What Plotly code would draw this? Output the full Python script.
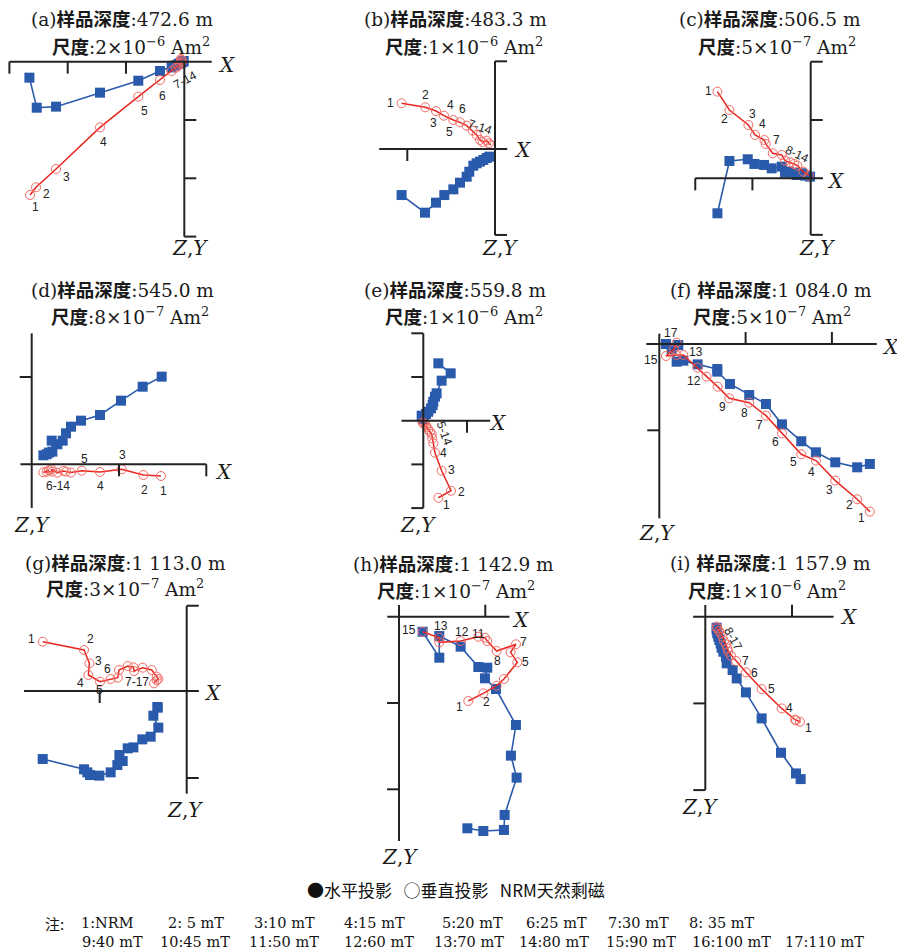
import plotly.graph_objects as go

W, H = 897, 950

# ---------------- data (units of one scale tick) ----------------
# (a) 472.6 m
a_blue_x = [-2.657, -2.531, -2.2, -1.446, -0.789, -0.417, -0.217, -0.149, -0.103, -0.069, -0.046, -0.029, -0.017, -0.011]
a_blue_y = [0.274, 0.789, 0.771, 0.531, 0.326, 0.16, 0.097, 0.063, 0.04, 0.023, 0.011, 0.0, -0.006, -0.011]
a_red_x = [-2.646, -2.543, -2.2, -1.446, -0.789, -0.417, -0.217, -0.143, -0.103, -0.074, -0.057, -0.04, -0.046, -0.057]
a_red_z = [2.286, 2.154, 1.84, 1.126, 0.6, 0.314, 0.16, 0.103, 0.069, 0.04, 0.017, -0.006, -0.029, -0.046]
# (b) 483.3 m
b_blue_x = [-1.065, -0.798, -0.673, -0.578, -0.475, -0.399, -0.323, -0.293, -0.247, -0.209, -0.171, -0.133, -0.095, -0.065]
b_blue_y = [0.525, 0.726, 0.612, 0.525, 0.46, 0.384, 0.316, 0.259, 0.19, 0.163, 0.144, 0.125, 0.103, 0.087]
b_red_x = [-1.065, -0.795, -0.673, -0.582, -0.475, -0.399, -0.323, -0.255, -0.209, -0.171, -0.141, -0.095, -0.068, -0.049]
b_red_z = [-0.521, -0.475, -0.433, -0.38, -0.331, -0.304, -0.266, -0.209, -0.16, -0.103, -0.08, -0.095, -0.065, -0.042]
# (c) 506.5 m
c_blue_x = [-1.6, -1.394, -1.08, -0.966, -0.8, -0.669, -0.497, -0.44, -0.383, -0.309, -0.24, -0.154, -0.097, -0.011]
c_blue_y = [0.6, -0.297, -0.326, -0.246, -0.229, -0.171, -0.2, -0.097, -0.114, -0.097, -0.057, -0.086, -0.046, -0.029]
c_red_x = [-1.6, -1.394, -1.069, -0.954, -0.794, -0.771, -0.651, -0.497, -0.44, -0.354, -0.286, -0.229, -0.126, -0.029]
c_red_z = [-1.486, -1.171, -0.914, -0.743, -0.657, -0.589, -0.429, -0.4, -0.303, -0.274, -0.246, -0.217, -0.114, -0.046]
# (d) 545.0 m
d_blue_x = [1.489, 1.271, 1.023, 0.782, 0.565, 0.45, 0.393, 0.355, 0.294, 0.229, 0.237, 0.172, 0.134, 0.198]
d_blue_y = [-1.004, -0.889, -0.729, -0.565, -0.5, -0.431, -0.355, -0.271, -0.229, -0.271, -0.145, -0.115, -0.103, -0.134]
d_red_x = [1.481, 1.279, 1.031, 0.782, 0.573, 0.45, 0.393, 0.363, 0.294, 0.229, 0.237, 0.172, 0.134, 0.198]
d_red_z = [0.134, 0.122, 0.057, 0.088, 0.073, 0.095, 0.084, 0.076, 0.095, 0.057, 0.084, 0.084, 0.092, 0.069]
# (e) 559.8 m
e_blue_x = [0.344, 0.626, 0.42, 0.305, 0.267, 0.229, 0.214, 0.176, 0.115, 0.061, 0.015, -0.015, -0.038, 0.0]
e_blue_y = [-1.313, -1.084, -0.916, -0.626, -0.55, -0.435, -0.359, -0.282, -0.206, -0.153, -0.107, -0.076, -0.115, -0.038]
e_red_x = [0.344, 0.634, 0.42, 0.267, 0.229, 0.206, 0.191, 0.153, 0.115, 0.076, 0.061, 0.023, 0.0, -0.015]
e_red_z = [1.763, 1.603, 1.145, 0.733, 0.519, 0.405, 0.305, 0.252, 0.198, 0.137, 0.107, 0.076, 0.061, 0.038]
# (f) 1 084.0 m
f_blue_x = [2.44, 2.293, 2.039, 1.815, 1.645, 1.421, 1.236, 1.042, 0.819, 0.672, 0.672, 0.444, 0.278, 0.201, 0.077, 0.143, 0.22]
f_blue_y = [1.39, 1.429, 1.371, 1.255, 1.127, 0.931, 0.695, 0.591, 0.463, 0.32, 0.29, 0.236, 0.193, 0.205, 0.0, 0.058, 0.012]
f_red_x = [2.44, 2.293, 2.039, 1.815, 1.645, 1.421, 1.236, 1.042, 0.811, 0.676, 0.548, 0.444, 0.278, 0.201, 0.077, 0.17, 0.201]
f_red_z = [1.942, 1.799, 1.583, 1.351, 1.278, 1.035, 0.83, 0.68, 0.629, 0.494, 0.378, 0.274, 0.127, 0.127, 0.139, 0.058, -0.015]
# (g) 1 113.0 m
g_blue_x = [-1.655, -1.18, -1.142, -1.111, -1.004, -0.874, -0.797, -0.736, -0.774, -0.678, -0.613, -0.51, -0.414, -0.326, -0.383, -0.337, -0.333]
g_blue_y = [0.782, 0.9, 0.935, 0.966, 0.973, 0.935, 0.851, 0.805, 0.736, 0.659, 0.648, 0.556, 0.525, 0.421, 0.284, 0.184, 0.192]
g_red_x = [-1.655, -1.18, -1.119, -1.13, -0.996, -0.874, -0.793, -0.778, -0.678, -0.613, -0.605, -0.506, -0.402, -0.345, -0.326, -0.375, -0.345]
g_red_z = [-0.567, -0.471, -0.318, -0.184, -0.107, -0.138, -0.153, -0.241, -0.287, -0.272, -0.23, -0.268, -0.241, -0.165, -0.138, -0.088, -0.123]
# (h) 1 142.9 m
h_blue_x = [0.792, 0.977, 1.216, 1.224, 1.363, 1.297, 1.355, 1.124, 0.996, 1.023, 0.919, 0.714, 0.467, 0.467, 0.274]
h_blue_y = [2.452, 2.483, 2.471, 2.297, 1.865, 1.61, 1.255, 0.838, 0.714, 0.591, 0.583, 0.347, 0.224, 0.475, 0.174]
h_red_x = [0.803, 0.977, 1.131, 1.216, 1.371, 1.293, 1.355, 1.131, 1.023, 0.996, 0.919, 0.714, 0.467, 0.467, 0.274]
h_red_z = [0.977, 0.888, 0.799, 0.722, 0.529, 0.413, 0.32, 0.398, 0.282, 0.243, 0.232, 0.282, 0.297, 0.243, 0.174]
# (i) 1 157.9 m
i_blue_x = [1.1, 1.046, 0.873, 0.65, 0.469, 0.362, 0.315, 0.246, 0.238, 0.208, 0.188, 0.177, 0.162, 0.15, 0.138, 0.131, 0.131]
i_blue_y = [1.873, 1.808, 1.569, 1.173, 0.873, 0.712, 0.615, 0.538, 0.462, 0.404, 0.358, 0.308, 0.269, 0.231, 0.192, 0.154, 0.127]
i_red_x = [1.092, 1.046, 1.035, 0.881, 0.65, 0.469, 0.354, 0.296, 0.265, 0.254, 0.238, 0.215, 0.2, 0.177, 0.158, 0.138, 0.131]
i_red_z = [1.212, 1.196, 1.188, 1.058, 0.835, 0.642, 0.512, 0.45, 0.404, 0.365, 0.319, 0.281, 0.231, 0.192, 0.165, 0.135, 0.115]

depths = ["472.6", "483.3", "506.5", "545.0", "559.8", "1 084.0", "1 113.0", "1 142.9", "1 157.9"]
scale_mant = ["2", "1", "5", "8", "1", "5", "3", "1", "1"]
scale_exp = ["−6", "−6", "−7", "−7", "−6", "−7", "−7", "−7", "−6"]
letters = ["(a)", "(b)", "(c)", "(d)", "(e)", "(f) ", "(g)", "(h)", "(i) "]

legend_text = "●水平投影   ○垂直投影   NRM天然剩磁"
note_row1 = ["1:NRM", "2: 5 mT", "3:10 mT", "4:15 mT", "5:20 mT", "6:25 mT", "7:30 mT", "8: 35 mT"]
note_row2 = ["9:40 mT", "10:45 mT", "11:50 mT", "12:60 mT", "13:70 mT", "14:80 mT", "15:90 mT", "16:100 mT", "17:110 mT"]

# ---------------- layout of the panels (pixels) ----------------
series = {
    "a": (a_blue_x, a_blue_y, a_red_x, a_red_z),
    "b": (b_blue_x, b_blue_y, b_red_x, b_red_z),
    "c": (c_blue_x, c_blue_y, c_red_x, c_red_z),
    "d": (d_blue_x, d_blue_y, d_red_x, d_red_z),
    "e": (e_blue_x, e_blue_y, e_red_x, e_red_z),
    "f": (f_blue_x, f_blue_y, f_red_x, f_red_z),
    "g": (g_blue_x, g_blue_y, g_red_x, g_red_z),
    "h": (h_blue_x, h_blue_y, h_red_x, h_red_z),
    "i": (i_blue_x, i_blue_y, i_red_x, i_red_z),
}

panels = [
    dict(k="a", ox=184.3, oy=61.7, s=58.3, xe=(-3, 0.47), ye=(0, 3), xt=[-1, -2, -3], xd=1, yt=[1, 2, 3], yd=1,
         t1=(122, 20), t2=(131, 46), xl=(227, 65), zl=(190, 248),
         lb=[("1", -2.56, 2.486, 0), ("2", -2.36, 2.274, 0), ("3", -2.029, 1.971, 0), ("4", -1.389, 1.371, 0),
             ("5", -0.691, 0.846, 0), ("6", -0.371, 0.583, 0), ("7-14", 0.011, 0.314, -28)]),
    dict(k="b", ox=495, oy=149, s=87.7, xe=(-1.32, 0.14), ye=(-1, 0.98), xt=[-1], xd=1, yt=[-1, 0.98], yd=1,
         t1=(455, 20), t2=(464, 46), xl=(522, 150), zl=(500, 248),
         lb=[("1", -1.19, -0.529, 0), ("2", -0.798, -0.616, 0), ("3", -0.703, -0.293, 0), ("4", -0.513, -0.502, 0),
             ("5", -0.521, -0.19, 0), ("6", -0.369, -0.456, 0), ("7-14", -0.171, -0.255, 18)]),
    dict(k="c", ox=810.7, oy=178.3, s=58.3, xe=(-1.98, 0.21), ye=(-2, 0.97), xt=[-1, -1.98], xd=1, yt=[-2, -1, 0.97], yd=1,
         t1=(770, 20), t2=(777, 46), xl=(835, 181), zl=(817, 248),
         lb=[("1", -1.754, -1.503, 0), ("2", -1.486, -1.011, 0), ("3", -0.994, -1.097, 0), ("4", -0.823, -0.926, 0),
             ("7", -0.594, -0.657, 0), ("8-14", -0.24, -0.417, 25)]),
    dict(k="d", ox=31.7, oy=464.3, s=87.3, xe=(-0.13, 2.0), ye=(-1.5, 0.5), xt=[1, 2], xd=1, yt=[-1], yd=-1,
         t1=(122, 290), t2=(130, 316), xl=(223, 472), zl=(32, 525),
         lb=[("5", 0.603, -0.057, 0), ("3", 1.038, -0.107, 0), ("6-14", 0.305, 0.248, 0), ("4", 0.79, 0.248, 0),
             ("2", 1.29, 0.294, 0), ("1", 1.508, 0.302, 0)]),
    dict(k="e", ox=423.3, oy=420.7, s=43.7, xe=(-0.5, 1.53), ye=(-2, 2), xt=[1], xd=1, yt=[-2, -1, 1, 2], yd=-1,
         t1=(455, 290), t2=(464, 316), xl=(498, 423), zl=(418, 525),
         lb=[("5-14", 0.473, 0.29, 70), ("4", 0.458, 0.748, 0), ("3", 0.649, 1.13, 0), ("2", 0.878, 1.626, 0),
             ("1", 0.534, 1.931, 0)]),
    dict(k="f", ox=659.3, oy=344, s=86.3, xe=(-0.15, 2.52), ye=(-0.12, 2.02), xt=[1, 2], xd=-1, yt=[1], yd=-1,
         t1=(771, 290), t2=(772, 316), xl=(890, 347), zl=(657, 533),
         lb=[("17", 0.131, -0.124, 0), ("15", -0.1, 0.185, 0), ("13", 0.421, 0.089, 0), ("12", 0.402, 0.425, 0),
             ("9", 0.734, 0.726, 0), ("8", 0.985, 0.795, 0), ("7", 1.158, 0.938, 0), ("6", 1.344, 1.131, 0),
             ("5", 1.552, 1.371, 0), ("4", 1.768, 1.479, 0), ("3", 1.969, 1.691, 0), ("2", 2.2, 1.865, 0),
             ("1", 2.347, 2.019, 0)]),
    dict(k="g", ox=186.7, oy=691, s=87, xe=(-1.87, 0.14), ye=(-0.98, 1.18), xt=[-1], xd=1, yt=[-0.98, 1], yd=1,
         t1=(125, 563), t2=(125, 588), xl=(212, 693), zl=(185, 810),
         lb=[("1", -1.782, -0.598, 0), ("2", -1.103, -0.594, 0), ("3", -1.015, -0.345, 0), ("6", -0.908, -0.253, 0),
             ("4", -1.215, -0.096, 0), ("5", -1.008, -0.011, 0), ("7-17", -0.575, -0.107, 0)]),
    dict(k="h", ox=399, oy=616.7, s=86.3, xe=(-0.135, 1.28), ye=(-0.135, 2.6), xt=[1], xd=-1, yt=[1, 2], yd=-1,
         t1=(454, 564), t2=(456, 590), xl=(520, 620), zl=(400, 857),
         lb=[("15", 0.12, 0.154, 0), ("13", 0.483, 0.104, 0), ("12", 0.726, 0.174, 0), ("11", 0.919, 0.205, 0),
             ("7", 1.448, 0.297, 0), ("5", 1.463, 0.529, 0), ("8", 1.139, 0.514, 0), ("2", 1.015, 0.985, 0),
             ("1", 0.699, 1.042, 0)]),
    dict(k="i", ox=705.3, oy=616.7, s=86.7, xe=(-0.14, 1.48), ye=(-0.135, 2.0), xt=[1], xd=-1, yt=[1, 2], yd=-1,
         t1=(770, 563), t2=(767, 590), xl=(848, 617), zl=(700, 807),
         lb=[("8-17", 0.315, 0.25, 60), ("7", 0.465, 0.512, 0), ("6", 0.573, 0.654, 0), ("5", 0.765, 0.835, 0),
             ("4", 0.969, 1.058, 0), ("1", 1.188, 1.281, 0)]),
]

BLUE = "#2a5aab"
RED = "#e8261f"
RED_MK = "#f26a64"
TICK_PX = 12
TITLE_FONT = dict(family="DejaVu Serif, Noto Sans CJK SC", size=18.5, color="#1a1a1a")
AXLAB_FONT = dict(family="DejaVu Serif", size=20, color="#1a1a1a")
PT_FONT = dict(family="Liberation Sans, Arial", size=12, color="#222222")

fig = go.Figure()
shapes = []
annotations = []


def px(x):
    return x / W


def py(y):
    return 1 - y / H


for n, p in enumerate(panels, start=1):
    sx = "x" if n == 1 else f"x{n}"
    sy = "y" if n == 1 else f"y{n}"
    ox, oy, s = p["ox"], p["oy"], p["s"]
    fig.update_layout({
        ("xaxis" if n == 1 else f"xaxis{n}"): dict(domain=[0, 1], range=[-ox / s, (W - ox) / s], visible=False,
                                                  fixedrange=True, anchor=sy),
        ("yaxis" if n == 1 else f"yaxis{n}"): dict(domain=[0, 1], range=[(H - oy) / s, -oy / s], visible=False,
                                                  fixedrange=True, anchor=sx),
    })
    bx, by, rx, rz = series[p["k"]]
    fig.add_trace(go.Scatter(x=bx, y=by, xaxis=sx, yaxis=sy, mode="lines+markers",
                             line=dict(color=BLUE, width=1.6),
                             marker=dict(symbol="square", size=10, color=BLUE), showlegend=False, hoverinfo="skip",
                             cliponaxis=False))
    fig.add_trace(go.Scatter(x=rx, y=rz, xaxis=sx, yaxis=sy, mode="lines+markers",
                             line=dict(color=RED, width=1.5),
                             marker=dict(symbol="circle-open", size=9, color=RED_MK, line=dict(width=1)),
                             showlegend=False, hoverinfo="skip", cliponaxis=False))
    L = TICK_PX / s
    axl = dict(color="#222222", width=2)
    shapes.append(dict(type="line", xref=sx, yref=sy, x0=p["xe"][0], x1=p["xe"][1], y0=0, y1=0, line=axl))
    shapes.append(dict(type="line", xref=sx, yref=sy, x0=0, x1=0, y0=p["ye"][0], y1=p["ye"][1], line=axl))
    for t in p["xt"]:
        shapes.append(dict(type="line", xref=sx, yref=sy, x0=t, x1=t, y0=0, y1=p["xd"] * L, line=axl))
    for t in p["yt"]:
        shapes.append(dict(type="line", xref=sx, yref=sy, x0=0, x1=p["yd"] * L, y0=t, y1=t, line=axl))
    # titles
    i = n - 1
    annotations.append(dict(text=f"{letters[i]}<b>样品深度</b>:{depths[i]} m", x=px(p["t1"][0]), y=py(p["t1"][1]),
                            xref="paper", yref="paper", showarrow=False, font=TITLE_FONT,
                            xanchor="center", yanchor="middle"))
    annotations.append(dict(text=f"<b>尺度</b>:{scale_mant[i]}×10<sup>{scale_exp[i]}</sup> Am<sup>2</sup>",
                            x=px(p["t2"][0]), y=py(p["t2"][1]),
                            xref="paper", yref="paper", showarrow=False, font=TITLE_FONT,
                            xanchor="center", yanchor="middle"))
    annotations.append(dict(text="<i>X</i>", x=px(p["xl"][0]), y=py(p["xl"][1]), xref="paper", yref="paper",
                            showarrow=False, font=AXLAB_FONT, xanchor="center", yanchor="middle"))
    annotations.append(dict(text="<i>Z</i>,<i>Y</i>", x=px(p["zl"][0]), y=py(p["zl"][1]), xref="paper",
                            yref="paper", showarrow=False, font=AXLAB_FONT, xanchor="center", yanchor="middle"))
    for (txt, lx, ly, ang) in p["lb"]:
        annotations.append(dict(text=txt, x=lx, y=ly, xref=sx, yref=sy, showarrow=False, font=PT_FONT,
                                textangle=ang, xanchor="center", yanchor="middle"))

# legend & notes
annotations.append(dict(text=legend_text, x=px(456), y=py(889), xref="paper", yref="paper", showarrow=False,
                        font=dict(family="Noto Sans CJK SC", size=17, color="#111111"),
                        xanchor="center", yanchor="middle"))
NOTE_FONT = dict(family="DejaVu Serif, Noto Sans CJK SC", size=14.5, color="#111111")
annotations.append(dict(text="注:", x=px(43), y=py(923), xref="paper", yref="paper", showarrow=False,
                        font=dict(family="Noto Sans CJK SC", size=15, color="#111111"),
                        xanchor="left", yanchor="middle"))
row1_x = [79, 166, 252, 342, 440, 524, 606, 687]
row2_x = [80, 158, 247, 342, 432, 517, 604, 690, 783]
for txt, x in zip(note_row1, row1_x):
    annotations.append(dict(text=txt, x=px(x), y=py(923), xref="paper", yref="paper", showarrow=False,
                            font=NOTE_FONT, xanchor="left", yanchor="middle"))
for txt, x in zip(note_row2, row2_x):
    annotations.append(dict(text=txt, x=px(x), y=py(942), xref="paper", yref="paper", showarrow=False,
                            font=NOTE_FONT, xanchor="left", yanchor="middle"))

fig.update_layout(width=W, height=H, margin=dict(l=0, r=0, t=0, b=0), paper_bgcolor="white",
                  plot_bgcolor="rgba(0,0,0,0)", shapes=shapes, annotations=annotations, showlegend=False)

fig.write_html("out.html", config={"displayModeBar": False},
               post_script="document.body.style.margin='0';document.body.style.overflow='hidden';")
